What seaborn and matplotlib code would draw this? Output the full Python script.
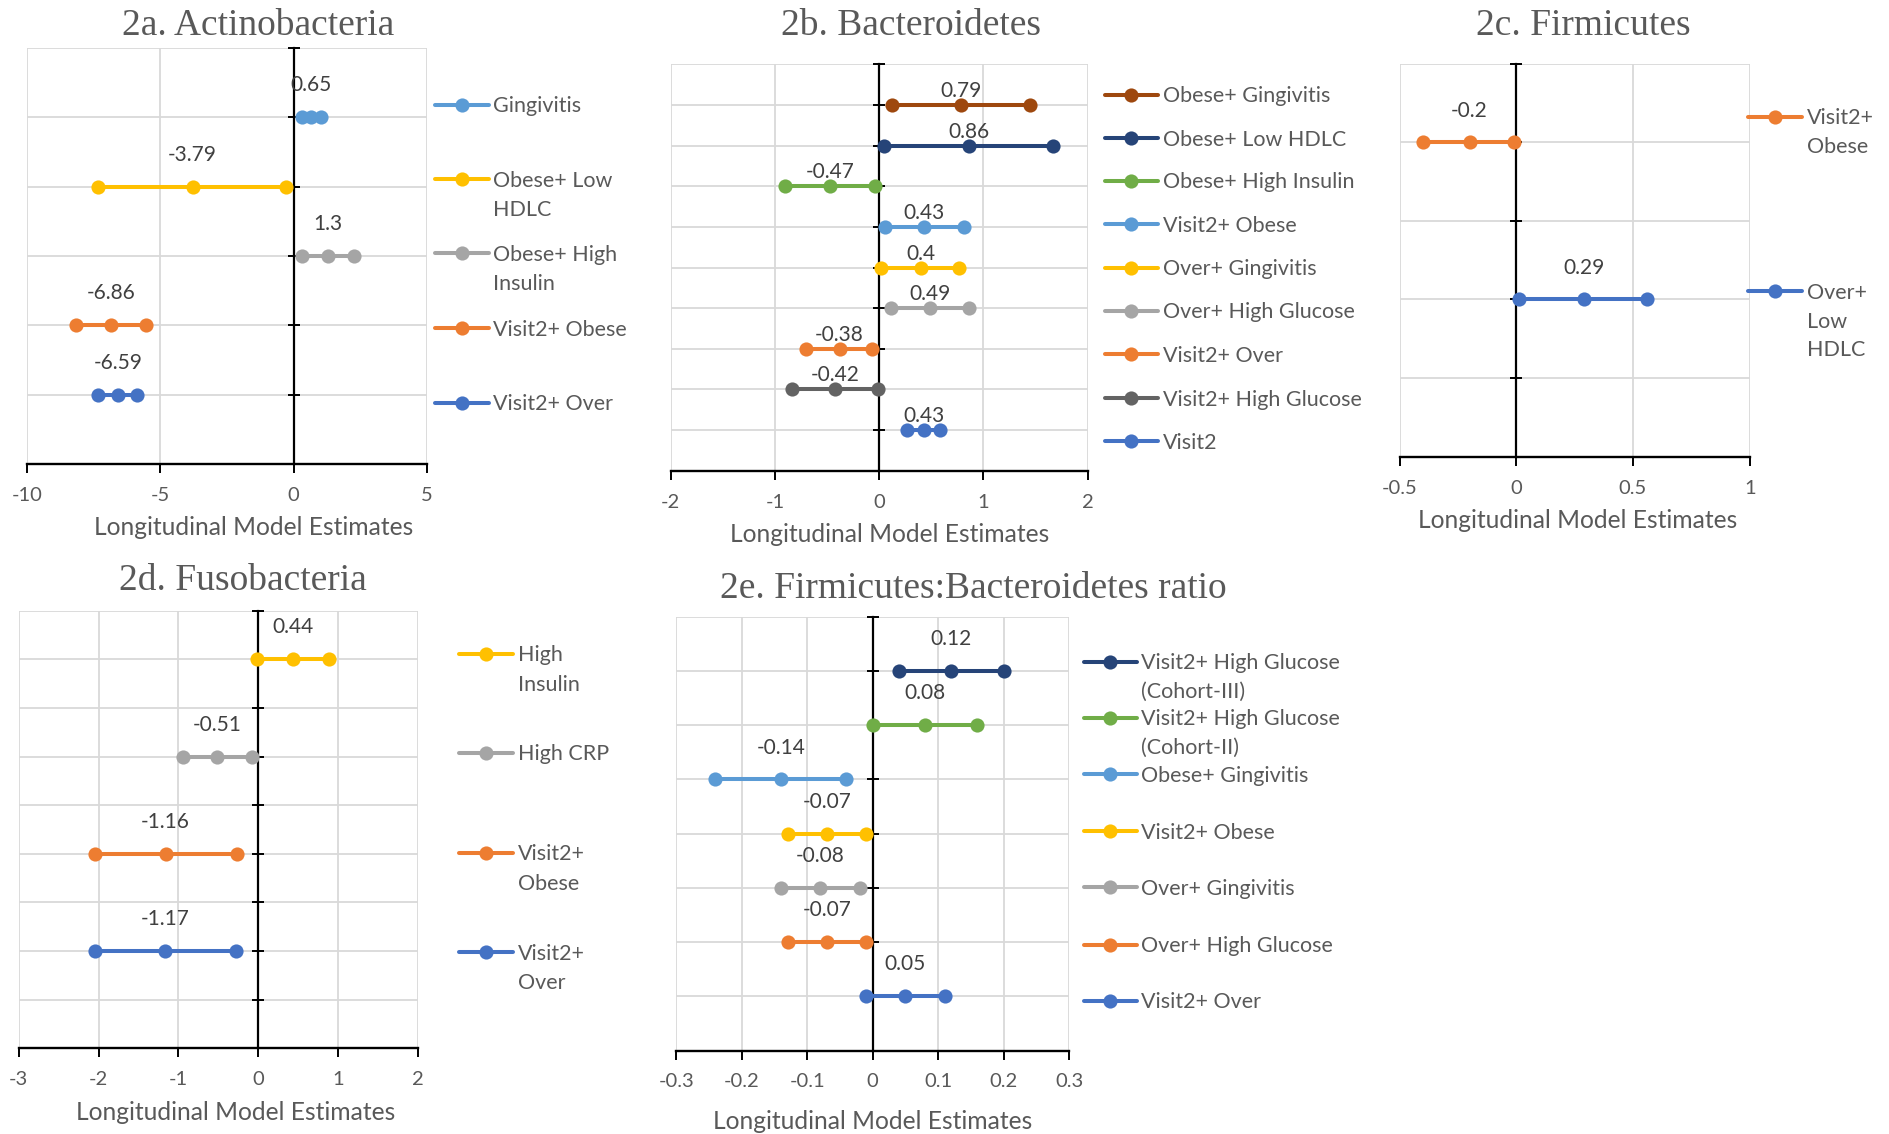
import numpy as np
import pandas as pd
import matplotlib
matplotlib.use("Agg")
import matplotlib.pyplot as plt
import seaborn as sns
from matplotlib.lines import Line2D

# ---------------- data ----------------
# 2a. Actinobacteria
a_labels = ["Gingivitis", "Obese+ Low\nHDLC", "Obese+ High\nInsulin", "Visit2+ Obese", "Visit2+ Over"]
a_low = [0.30, -7.32, 0.33, -8.17, -7.32]
a_est = [0.65, -3.79, 1.30, -6.86, -6.59]
a_high = [1.02, -0.28, 2.27, -5.55, -5.86]
a_xticks = [-10, -5, 0, 5]

# 2b. Bacteroidetes
b_labels = ["Obese+ Gingivitis", "Obese+ Low HDLC", "Obese+ High Insulin", "Visit2+ Obese",
            "Over+ Gingivitis", "Over+ High Glucose", "Visit2+ Over", "Visit2+ High Glucose", "Visit2"]
b_low = [0.12, 0.05, -0.90, 0.06, 0.02, 0.11, -0.70, -0.84, 0.27]
b_est = [0.79, 0.86, -0.47, 0.43, 0.40, 0.49, -0.38, -0.42, 0.43]
b_high = [1.45, 1.67, -0.04, 0.81, 0.77, 0.86, -0.07, -0.01, 0.58]
b_xticks = [-2, -1, 0, 1, 2]

# 2c. Firmicutes
c_labels = ["Visit2+\nObese", "Over+\nLow\nHDLC"]
c_low = [-0.40, 0.01]
c_est = [-0.20, 0.29]
c_high = [-0.01, 0.56]
c_xticks = [-0.5, 0, 0.5, 1]

# 2d. Fusobacteria
d_labels = ["High\nInsulin", "High CRP", "Visit2+\nObese", "Visit2+\nOver"]
d_low = [-0.01, -0.94, -2.05, -2.05]
d_est = [0.44, -0.51, -1.16, -1.17]
d_high = [0.89, -0.08, -0.26, -0.28]
d_xticks = [-3, -2, -1, 0, 1, 2]

# 2e. Firmicutes:Bacteroidetes ratio
e_labels = ["Visit2+ High Glucose\n(Cohort-III)", "Visit2+ High Glucose\n(Cohort-II)", "Obese+ Gingivitis",
            "Visit2+ Obese", "Over+ Gingivitis", "Over+ High Glucose", "Visit2+ Over"]
e_low = [0.04, 0.00, -0.24, -0.13, -0.14, -0.13, -0.01]
e_est = [0.12, 0.08, -0.14, -0.07, -0.08, -0.07, 0.05]
e_high = [0.20, 0.16, -0.04, -0.01, -0.02, -0.01, 0.11]
e_xticks = [-0.3, -0.2, -0.1, 0, 0.1, 0.2, 0.3]

# ---------------- styles ----------------
BLUE_L, GOLD, GRAY, ORANGE, BLUE = "#5B9BD5", "#FFC000", "#A5A5A5", "#ED7D31", "#4472C4"
BROWN, NAVY, GREEN, DGRAY = "#9E480E", "#264478", "#70AD47", "#636363"
a_colors = [BLUE_L, GOLD, GRAY, ORANGE, BLUE]
b_colors = [BROWN, NAVY, GREEN, BLUE_L, GOLD, GRAY, ORANGE, DGRAY, BLUE]
c_colors = [ORANGE, BLUE]
d_colors = [GOLD, GRAY, ORANGE, BLUE]
e_colors = [NAVY, GREEN, BLUE_L, GOLD, GRAY, ORANGE, BLUE]

sns.set_theme(style="white")
plt.rcParams["font.family"] = ["Lato", "DejaVu Sans"]
plt.rcParams["axes.unicode_minus"] = False

FIG_W, FIG_H = 1889, 1134
fig = plt.figure(figsize=(FIG_W / 100, FIG_H / 100), dpi=100)


def fx(px):
    return px / FIG_W


def fy(py):
    return 1 - py / FIG_H


TXT = "#595959"
LAB = "#404040"
GRID = "#D9D9D9"
TICK_FS = 14.5
XLAB_FS = 17.7
LEG_FS = 15.5
DL_FS = 15
TITLE_FS = 27
MS = 10.2
LW = 2.9

panels = [
    dict(title="2a. Actinobacteria", labels=a_labels, low=a_low, est=a_est, high=a_high,
         colors=a_colors, xticks=a_xticks, rect=(26.9, 48.1, 427, 463.8), ymax=6, step=1,
         lab_off=32, title_xy=(258, 35), xlab_x=0.566, xlab_pad=9,
         leg_x=(435.2, 489.1, 493.3), leg_y=[106.3, 181, 255, 329.8, 404.1], leg_gap=28.8),
    dict(title="2b. Bacteroidetes", labels=b_labels, low=b_low, est=b_est, high=b_high,
         colors=b_colors, xticks=b_xticks, rect=(670.8, 64.2, 1087.5, 470.8), ymax=10, step=1,
         lab_off=14, title_xy=(910.8, 35), xlab_x=0.524, xlab_pad=9,
         leg_x=(1105, 1157.8, 1163.3),
         leg_y=[96.5, 139.6, 182.4, 225.6, 269.4, 312.2, 356, 399.9, 442.7], leg_gap=28.8),
    dict(title="2c. Firmicutes", labels=c_labels, low=c_low, est=c_est, high=c_high,
         colors=c_colors, xticks=c_xticks, rect=(1399.5, 63.5, 1749.7, 456.7), ymax=5, step=2,
         lab_off=31.5, title_xy=(1583.5, 35), xlab_x=0.51, xlab_pad=9,
         leg_x=(1748, 1802, 1807), leg_y=[118.2, 292.9], leg_gap=28.6),
    dict(title="2d. Fusobacteria", labels=d_labels, low=d_low, est=d_est, high=d_high,
         colors=d_colors, xticks=d_xticks, rect=(18.7, 610.7, 417.8, 1048.3), ymax=9, step=2,
         lab_off=32, title_xy=(242.5, 590.2), xlab_x=0.543, xlab_pad=9,
         leg_x=(459.3, 513.2, 518.1), leg_y=[655.4, 754.4, 854.3, 954], leg_gap=29.2),
    dict(title="2e. Firmicutes:Bacteroidetes ratio", labels=e_labels, low=e_low, est=e_est, high=e_high,
         colors=e_colors, xticks=e_xticks, rect=(676.2, 616.7, 1069.1, 1050.5), ymax=8, step=1,
         lab_off=31.8, title_xy=(973.6, 598.4), xlab_x=0.5, xlab_pad=14,
         leg_x=(1083.8, 1136.5, 1141.1),
         leg_y=[663.2, 719.2, 776, 832.7, 888.7, 946.1, 1002.1], leg_gap=28.9),
]

for p in panels:
    l, t, r, b = p["rect"]
    ax = fig.add_axes([fx(l), fy(b), fx(r) - fx(l), (b - t) / FIG_H])
    n = len(p["labels"])
    ypos = [p["ymax"] - 1 - p["step"] * i for i in range(n)]
    rows = []
    for lab, y, lo, es, hi in zip(p["labels"], ypos, p["low"], p["est"], p["high"]):
        for v in (lo, es, hi):
            rows.append(dict(series=lab, x=v, y=y))
    df = pd.DataFrame(rows)
    sns.lineplot(data=df, x="x", y="y", hue="series", hue_order=p["labels"],
                 palette=p["colors"], marker="o", markersize=MS, markeredgewidth=0,
                 linewidth=LW, estimator=None, sort=False, legend=False, ax=ax, zorder=3)
    for y, es in zip(ypos, p["est"]):
        ax.annotate(f"{es:g}", xy=(es, y), xytext=(0, p["lab_off"]), textcoords="offset pixels",
                    ha="center", va="center", fontsize=DL_FS, color=LAB, zorder=4)

    xt = p["xticks"]
    ax.set_xlim(xt[0], xt[-1])
    ax.set_ylim(0, p["ymax"])
    ax.set_xticks(xt)
    ax.set_xticklabels([f"{v:g}" for v in xt])
    ax.set_yticks(range(0, p["ymax"] + 1))
    ax.grid(True, color=GRID, linewidth=1.3)
    ax.set_axisbelow(True)
    for s in ("top", "right"):
        ax.spines[s].set_visible(False)
    ax.spines["left"].set_position(("data", 0))
    ax.spines["left"].set_color("black")
    ax.spines["left"].set_linewidth(1.6)
    ax.spines["left"].set_zorder(2.5)
    ax.spines["bottom"].set_color("black")
    ax.spines["bottom"].set_linewidth(1.7)
    ax.tick_params(axis="y", labelleft=False, left=True, direction="inout", length=8,
                   width=1.4, color="black")
    ax.tick_params(axis="x", bottom=True, direction="out", length=6.5, width=1.4, color="black",
                   labelsize=TICK_FS, labelcolor=TXT, pad=10)
    ax.set_ylabel("")
    ax.set_xlabel("Longitudinal Model Estimates", fontsize=XLAB_FS, color=TXT,
                  labelpad=p["xlab_pad"])
    ax.xaxis.label.set_x(p["xlab_x"])

    # title
    tx, ty = p["title_xy"]
    fig.text(fx(tx), fy(ty), p["title"], family=["Liberation Serif", "DejaVu Serif"],
             fontsize=TITLE_FS, color=TXT, ha="center", va="baseline")

    # legend entries
    hx0, hx1, tx0 = p["leg_x"]
    fs_px = LEG_FS * 100 / 72
    for lab, col, ly in zip(p["labels"], p["colors"], p["leg_y"]):
        lines = lab.split("\n")
        h = Line2D([], [], color=col, marker="o", markersize=MS, markeredgewidth=0,
                   linewidth=LW)
        fig.legend(handles=[h], labels=[lines[0]], loc="center left",
                   bbox_to_anchor=(fx(hx0), fy(ly)), frameon=False, borderpad=0,
                   borderaxespad=0, handlelength=(hx1 - hx0) / fs_px,
                   handletextpad=(tx0 - hx1) / fs_px, fontsize=LEG_FS, labelcolor=TXT,
                   numpoints=1)
        for k, extra in enumerate(lines[1:], start=1):
            fig.text(fx(tx0), fy(ly + k * p["leg_gap"]), extra, fontsize=LEG_FS, color=TXT,
                     ha="left", va="center")

fig.savefig("out.png", dpi=100, facecolor="white")
